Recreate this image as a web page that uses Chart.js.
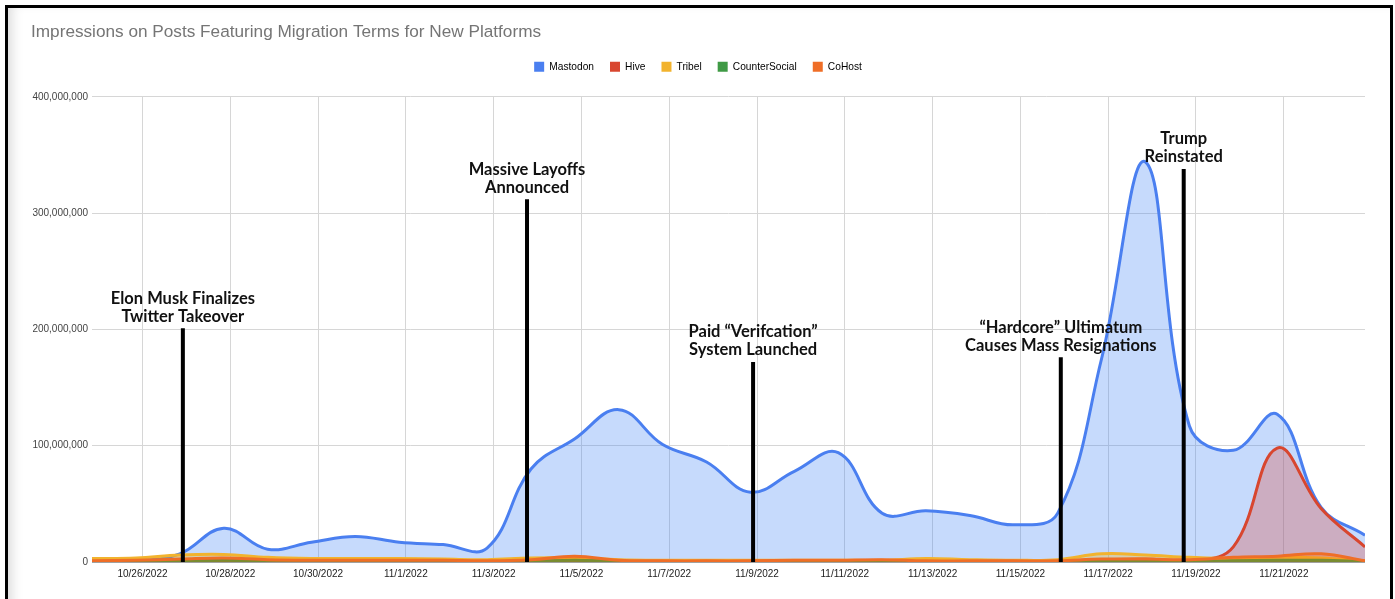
<!DOCTYPE html>
<html>
<head>
<meta charset="utf-8">
<script src="https://cdn.jsdelivr.net/npm/chart.js@4.4.0/dist/chart.umd.min.js"></script>
<style>
  html, body { margin: 0; padding: 0; background: #fff; }
  .frame {
    position: absolute; left: 5px; top: 5px;
    width: 1382px; height: 640px;
    border: 3px solid #000; border-bottom: 0;
    box-shadow: inset 12px 2px 12px -8px rgba(0, 0, 0, 0.14);
  }
  #chart { position: absolute; left: 0; top: 0; }
</style>
</head>
<body>
<div class="frame"></div>
<canvas id="chart" width="1395" height="599"></canvas>
<script>
// Daily impressions, 10/25/2022 - 11/23/2022
const dateLabels = [
    '10/25/2022', '10/26/2022', '10/27/2022', '10/28/2022', '10/29/2022', '10/30/2022', '10/31/2022',
    '11/1/2022', '11/2/2022', '11/3/2022', '11/4/2022', '11/5/2022', '11/6/2022', '11/7/2022',
    '11/8/2022', '11/9/2022', '11/10/2022', '11/11/2022', '11/12/2022', '11/13/2022', '11/14/2022',
    '11/15/2022', '11/16/2022', '11/17/2022', '11/18/2022', '11/19/2022', '11/20/2022', '11/21/2022',
    '11/22/2022', '11/23/2022'
];

const mastodon = [
    0.5e6, 1e6, 7e6, 29e6, 11e6, 17e6, 22e6, 17e6, 15e6, 12e6,
    80e6, 106e6, 131e6, 101e6, 86e6, 60e6, 78e6, 94e6, 42e6, 44e6,
    40e6, 32e6, 42e6, 175e6, 344e6, 117e6, 96e6, 127e6, 47e6, 23e6
];
const hive = [
    0, 0, 0.5e6, 1e6, 0.5e6, 0.3e6, 0.3e6, 0.5e6, 0.5e6, 0.3e6,
    0.5e6, 1e6, 0.5e6, 0.3e6, 0.3e6, 0.3e6, 0.5e6, 1e6, 0.5e6, 0.3e6,
    0.3e6, 0.5e6, 1e6, 2e6, 2.5e6, 1e6, 13e6, 98e6, 46e6, 13e6
];
const tribel = [
    3e6, 3.5e6, 6e6, 6.5e6, 4e6, 3e6, 3e6, 3e6, 2.5e6, 2e6,
    3.5e6, 3.5e6, 2e6, 1.5e6, 1.5e6, 1.5e6, 1.5e6, 1.5e6, 1.5e6, 3e6,
    2e6, 1.5e6, 2e6, 7e6, 6e6, 4e6, 3e6, 4e6, 3.5e6, 1e6
];
const counterSocial = [
    0.3e6, 0.3e6, 0.5e6, 1.5e6, 0.5e6, 0.3e6, 0.3e6, 0.3e6, 0.3e6, 0.3e6,
    0.5e6, 1.5e6, 0.5e6, 0.3e6, 0.3e6, 0.3e6, 0.3e6, 0.5e6, 0.3e6, 0.3e6,
    0.3e6, 0.3e6, 0.3e6, 0.5e6, 0.5e6, 0.5e6, 1e6, 1.5e6, 1.5e6, 0.5e6
];
const coHost = [
    1e6, 1.5e6, 2.5e6, 3.5e6, 2e6, 1.5e6, 1.5e6, 1.5e6, 1.5e6, 1e6,
    2e6, 5e6, 1.5e6, 1e6, 1e6, 1e6, 1.5e6, 1.5e6, 2e6, 1e6,
    1e6, 1e6, 1e6, 2.5e6, 2.5e6, 2e6, 4e6, 5e6, 7e6, 1e6
];

const yTicks = [0, 100e6, 200e6, 300e6, 400e6];

// Event annotations (x in days from 10/25, top of marker in impressions)
const eventDay = [2.07, 9.91, 15.06, 22.07, 24.87];
const eventTop = [201e6, 312e6, 172e6, 176e6, 338e6];
const eventLabels = [
    ['Elon Musk Finalizes', 'Twitter Takeover'],
    ['Massive Layoffs', 'Announced'],
    ['Paid \u201cVerifcation\u201d', 'System Launched'],
    ['\u201cHardcore\u201d Ultimatum', 'Causes Mass Resignations'],
    ['Trump', 'Reinstated']
];

const TICK_SHIFT = 0.15;
const FONT = "'Liberation Sans', Arial, sans-serif";

function series(label, values, color, fillColor, order) {
    return {
        label: label,
        data: values.map((v, i) => ({ x: i, y: v })),
        borderColor: color,
        backgroundColor: fillColor,
        legendColor: color,
        borderWidth: 3,
        fill: 'origin',
        tension: 0.4,
        pointRadius: 0,
        pointHoverRadius: 0,
        order: order
    };
}

const eventMarkers = {
    id: 'eventMarkers',
    afterDatasetsDraw(chart) {
        const { ctx, scales: { x, y } } = chart;
        ctx.save();
        eventDay.forEach((d, i) => {
            const px = x.getPixelForValue(d);
            const top = y.getPixelForValue(eventTop[i]);
            ctx.strokeStyle = '#000';
            ctx.lineWidth = 4;
            ctx.beginPath();
            ctx.moveTo(px, top);
            ctx.lineTo(px, y.getPixelForValue(0));
            ctx.stroke();

            ctx.fillStyle = '#111';
            ctx.font = "bold 16.5px Lato, 'DejaVu Sans', sans-serif";
            ctx.textAlign = 'center';
            ctx.textBaseline = 'middle';
            ctx.fillText(eventLabels[i][0], px, top - 30);
            ctx.fillText(eventLabels[i][1], px, top - 12);
        });
        ctx.restore();
    }
};

// push the plot area down a bit below the legend
const legendGap = {
    id: 'legendGap',
    beforeInit(chart) {
        const fit = chart.legend.fit;
        chart.legend.fit = function () {
            fit.call(this);
            this.height += 15;
        };
    }
};

new Chart(document.getElementById('chart'), {
    type: 'line',
    data: {
        datasets: [
            series('Mastodon', mastodon, '#4a7ff0', 'rgba(66, 133, 244, 0.3)', 5),
            series('Hive', hive, '#d8462f', 'rgba(219, 68, 55, 0.3)', 4),
            series('Tribel', tribel, '#f2b32e', 'rgba(244, 180, 0, 0.3)', 3),
            series('CounterSocial', counterSocial, '#3f9a45', 'rgba(15, 157, 88, 0.3)', 2),
            series('CoHost', coHost, '#ef6e27', 'rgba(255, 109, 1, 0.3)', 1)
        ]
    },
    options: {
        responsive: false,
        animation: false,
        devicePixelRatio: 1,
        layout: { padding: { left: 31, right: 30, top: 0, bottom: 0 } },
        plugins: {
            title: {
                display: true,
                text: 'Impressions on Posts Featuring Migration Terms for New Platforms',
                align: 'start',
                color: '#757575',
                font: { family: FONT, size: 17.2, weight: 'normal' },
                padding: { top: 22, bottom: 3 }
            },
            legend: {
                labels: {
                    boxWidth: 10,
                    boxHeight: 10,
                    padding: 16,
                    color: '#222',
                    font: { family: FONT, size: 10.2 },
                    generateLabels(chart) {
                        return chart.data.datasets.map((ds, i) => ({
                            text: ds.label,
                            fillStyle: ds.legendColor,
                            strokeStyle: ds.legendColor,
                            lineWidth: 0,
                            hidden: !chart.isDatasetVisible(i),
                            datasetIndex: i
                        }));
                    }
                }
            },
            tooltip: { enabled: false }
        },
        scales: {
            x: {
                type: 'linear',
                min: 0,
                max: dateLabels.length - 1,
                afterBuildTicks(axis) {
                    axis.ticks = dateLabels
                        .map((d, i) => i)
                        .filter(i => i % 2 === 1 && i < dateLabels.length - 1)
                        .map(i => ({ value: i + TICK_SHIFT }));
                },
                afterFit(axis) { axis.height = 37; },
                ticks: {
                    autoSkip: false,
                    maxRotation: 0,
                    padding: 6,
                    color: '#222',
                    font: { family: FONT, size: 10 },
                    callback: (v) => dateLabels[Math.round(v - TICK_SHIFT)]
                },
                grid: { color: '#d6d6d6', drawTicks: false },
                border: { display: false }
            },
            y: {
                min: yTicks[0],
                max: yTicks[yTicks.length - 1],
                afterBuildTicks(axis) {
                    axis.ticks = yTicks.map(v => ({ value: v }));
                },
                afterFit(axis) { axis.width = 61; },
                ticks: {
                    padding: 4,
                    color: '#444',
                    font: { family: FONT, size: 10 },
                    callback: (v) => v.toLocaleString('en-US')
                },
                grid: {
                    drawTicks: false,
                    color: (c) => c.tick && c.tick.value === 0 ? '#444' : '#d6d6d6',
                    lineWidth: (c) => c.tick && c.tick.value === 0 ? 1.5 : 1
                },
                border: { display: false }
            }
        }
    },
    plugins: [legendGap, eventMarkers]
});
</script>
</body>
</html>
